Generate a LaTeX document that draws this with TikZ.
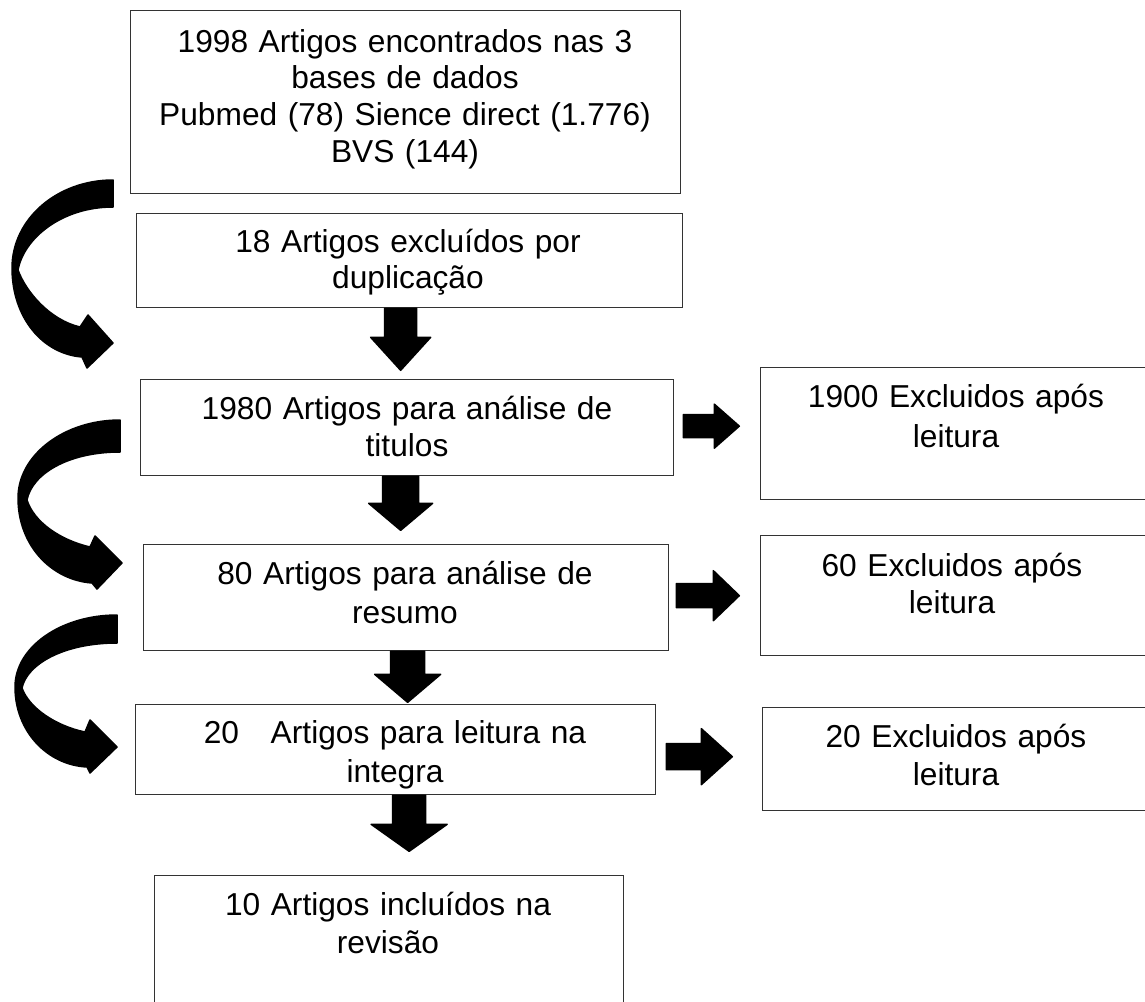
\documentclass[tikz,border=0pt]{standalone}
\usepackage{fontspec}
\setmainfont{Liberation Sans}
\usetikzlibrary{calc}
\newcommand{\dnarr}[5]{% #1 top centre, #2 shaft half width, #3 head half width, #4 shaft length, #5 head length
  \filldraw[blk] (#1) ++(-#2,0) -- ++(0,#4) -- ++(#2-#3,0) -- ++(#3,#5) -- ++(#3,-#5) -- ++(#2-#3,0) -- ++(0,-#4) -- cycle;}
\newcommand{\rtarr}[5]{% #1 tail centre, #2 shaft half height, #3 head half height, #4 shaft length, #5 head length
  \filldraw[blk] (#1) ++(0,-#2) -- ++(#4,0) -- ++(0,#2-#3) -- ++(#5,#3) -- ++(-#5,#3) -- ++(0,#2-#3) -- ++(-#4,0) -- cycle;}
\begin{document}
\begin{tikzpicture}[x=1pt,y=-1pt,
  box/.style={draw=black!80, line width=1.3pt, rectangle, inner sep=0pt, anchor=north west},
  txt/.style={font=\fontsize{31.7}{38}\selectfont, text width=560pt, align=center, anchor=base, inner sep=0pt},
  blk/.style={fill=black, draw=black, line width=1.5pt, line join=round}]
\useasboundingbox (0,0) rectangle (1145,1001);
\clip (0,0) rectangle (1145,1001);
\fill[white] (0,0) rectangle (1145,1001);

% main column boxes
\node[box, minimum width=550pt, minimum height=183pt] (b1) at (130,10) {};
\node[box, minimum width=546pt, minimum height=94pt]  (b2) at (136,213) {};
\node[box, minimum width=533pt, minimum height=96pt]  (b3) at (140,379) {};
\node[box, minimum width=525pt, minimum height=106pt] (b4) at (143,544) {};
\node[box, minimum width=520pt, minimum height=90pt]  (b5) at (135,704) {};
\node[box, minimum width=469pt, minimum height=140pt] (b6) at (154,875) {};
% right boxes
\node[box, minimum width=390pt, minimum height=132pt] (r1) at (760,367) {};
\node[box, minimum width=390pt, minimum height=120pt] (r2) at (760,535) {};
\node[box, minimum width=388pt, minimum height=103pt] (r3) at (762,707) {};

% texts
\node[txt, font=\fontsize{31.7}{36.7}\selectfont] (t1) at (405,52) {1998 Artigos encontrados nas 3\\bases de dados\\Pubmed (78) Sience direct (1.776)\\BVS (144)};
\node[txt, font=\fontsize{31.7}{36.5}\selectfont] (t2) at (408,252) {18 Artigos excluídos por\\duplicação};
\node[txt, font=\fontsize{31.7}{37}\selectfont] (t3) at (407,419) {1980 Artigos para análise de\\titulos};
\node[txt, font=\fontsize{31.7}{39}\selectfont] (t4) at (405,584) {80 Artigos para análise de\\resumo};
\node[txt, font=\fontsize{31.7}{39}\selectfont] (t5) at (395,743) {20\ \ \ Artigos para leitura na\\integra};
\node[txt, font=\fontsize{31.7}{38}\selectfont] (t6) at (388,915) {10 Artigos incluídos na\\revisão};
\node[txt, font=\fontsize{31.7}{40}\selectfont] (u1) at (956,407) {1900 Excluidos após\\leitura};
\node[txt, font=\fontsize{31.7}{37}\selectfont] (u2) at (952,576) {60 Excluidos após\\leitura};
\node[txt, font=\fontsize{31.7}{38}\selectfont] (u3) at (956,747) {20 Excluidos após\\leitura};

% down block arrows
\coordinate (d1) at ($(b2.south)+(-9,0)$);
\coordinate (d2) at ($(b3.south)+(-6.5,0)$);
\coordinate (d3) at ($(b4.south)+(1.5,0)$);
\coordinate (d4) at ($(b5.south)+(13.5,0)$);
\dnarr{d1}{16}{30}{29}{33}
\dnarr{d2}{18}{32}{27}{27}
\dnarr{d3}{17}{33}{23}{28}
\dnarr{d4}{16.5}{38}{29}{27}

% right block arrows
\coordinate (a1) at ($(b3.east)+(9,-1.5)$);
\coordinate (a2) at ($(b4.east)+(7,-2)$);
\coordinate (a3) at ($(b5.east)+(10,7)$);
\rtarr{a1}{11.5}{22}{31}{25}
\rtarr{a2}{12}{25}{37}{26}
\rtarr{a3}{13}{28}{35}{31}

% curved arrows
\filldraw[blk] (113,180) .. controls (57,180) and (12,219) .. (12,268)
  .. controls (12,318) and (43,354) .. (82,357) -- (87,368) -- (113,343) -- (88,315) -- (80,327)
  .. controls (50,320) and (26,292) .. (18,270)
  .. controls (24,238) and (62,207) .. (113,207) -- cycle;
\filldraw[blk] (120,420) .. controls (64,420) and (18,455) .. (18,498)
  .. controls (18,545) and (51,580) .. (92,583) -- (97,589) -- (122,563) -- (95,536) -- (90,547)
  .. controls (60,540) and (34,522) .. (27,500)
  .. controls (32,474) and (68,452) .. (120,452) -- cycle;
\filldraw[blk] (117,615) .. controls (61,615) and (15,647) .. (15,687)
  .. controls (15,731) and (47,765) .. (87,767) -- (90,773) -- (117,747) -- (90,720) -- (85,732)
  .. controls (56,726) and (29,708) .. (22,688)
  .. controls (27,664) and (64,643) .. (117,643) -- cycle;
\end{tikzpicture}
\end{document}
